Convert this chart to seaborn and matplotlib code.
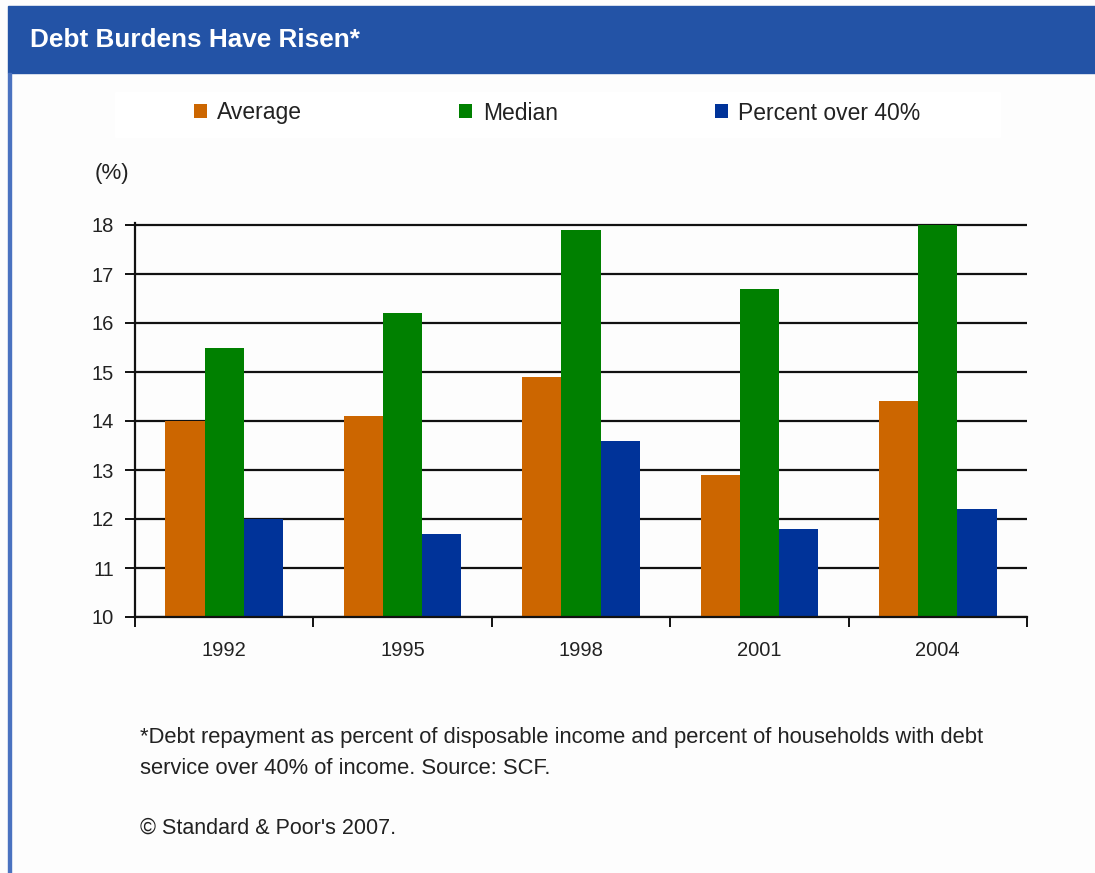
import matplotlib
matplotlib.use("Agg")
import matplotlib.pyplot as plt
import matplotlib.patches as mpatches
import seaborn as sns
import pandas as pd

years = ["1992", "1995", "1998", "2001", "2004"]
average = [14.0, 14.1, 14.9, 12.9, 14.4]
median = [15.5, 16.2, 17.9, 16.7, 18.0]
pct_over_40 = [12.0, 11.7, 13.6, 11.8, 12.2]
series_names = ["Average", "Median", "Percent over 40%"]
y_ticks = [10, 11, 12, 13, 14, 15, 16, 17, 18]

colors = ["#CC6600", "#008000", "#003399"]
header_blue = "#2353A6"

df = pd.DataFrame({
    "year": years * 3,
    "value": average + median + pct_over_40,
    "series": [series_names[0]] * 5 + [series_names[1]] * 5 + [series_names[2]] * 5,
})

sns.set_theme(style="white")
plt.rcParams["font.family"] = ["Liberation Sans", "DejaVu Sans"]

W, H = 1095, 873
fig = plt.figure(figsize=(W / 100, H / 100), dpi=100)
fig.patch.set_facecolor("#FDFDFD")

def fx(px):
    return px / W

def fy(py):
    return 1 - py / H

# header band and left border
fig.patches.append(mpatches.Rectangle((fx(8), fy(73)), fx(W - 8), (73 - 6) / H,
                                      transform=fig.transFigure, color=header_blue, zorder=-2))
fig.patches.append(mpatches.Rectangle((fx(8), 0), fx(3), fy(73),
                                      transform=fig.transFigure, color="#4A72C0", zorder=-2))
fig.text(fx(30), fy(40), "Debt Burdens Have Risen*", color="white", fontsize=18.8,
         fontweight="bold", va="center", ha="left")

# legend strip
fig.patches.append(mpatches.Rectangle((fx(115), fy(137)), fx(885), 45 / H,
                                      transform=fig.transFigure, color="white", zorder=-2))

ax_left, ax_right = 135, 1027
ax_bottom = 617
ymax = 18.05
ax_top = 617 - (ymax - 10) * 49
ax = fig.add_axes([fx(ax_left), fy(ax_bottom), fx(ax_right - ax_left), (ax_bottom - ax_top) / H])
ax.set_facecolor("#FDFDFD")

sns.barplot(data=df, x="year", y="value", hue="series", order=years,
            hue_order=series_names, palette=colors, width=0.66, gap=0,
            saturation=1, edgecolor="none", linewidth=0, ax=ax, zorder=3)

ax.set_ylim(10, ymax)
ax.set_xlim(-0.5, 4.5)
ax.set_yticks(y_ticks)
ax.yaxis.grid(True, color="#111111", linewidth=1.6, zorder=0)
ax.xaxis.grid(False)
ax.set_axisbelow(True)
for s in ["top", "right"]:
    ax.spines[s].set_visible(False)
for s in ["left", "bottom"]:
    ax.spines[s].set_color("#111111")
    ax.spines[s].set_linewidth(1.6)
    ax.spines[s].set_zorder(4)

ax.tick_params(axis="y", which="major", left=True, length=7, width=1.4, color="#111111",
               labelsize=14.5, labelcolor="#222222", pad=8)
ax.set_xticks(range(len(years)))
ax.set_xticklabels(years)
ax.set_xticks([i - 0.5 for i in range(len(years) + 1)], minor=True)
ax.tick_params(axis="x", which="major", length=0, labelsize=14.5, labelcolor="#222222", pad=17)
ax.tick_params(axis="x", which="minor", bottom=True, length=7, width=1.4, color="#111111")
ax.set_xlabel("")
ax.set_ylabel("")

handles, labels = ax.get_legend_handles_labels()
ax.get_legend().remove()
fig.legend(handles, labels, loc="center left", bbox_to_anchor=(fx(194), fy(113)),
           ncol=3, frameon=False, fontsize=16.5,
           handlelength=0.57, handleheight=0.57, handletextpad=0.45,
           columnspacing=6.85, borderpad=0, borderaxespad=0, labelcolor="#222222")

fig.text(fx(95), fy(173), "(%)", fontsize=16, color="#222222", va="center", ha="left")

fig.text(fx(140), fy(738), "*Debt repayment as percent of disposable income and percent of households with debt",
         fontsize=15.8, color="#222222", va="center", ha="left")
fig.text(fx(140), fy(768), "service over 40% of income. Source: SCF.",
         fontsize=15.8, color="#222222", va="center", ha="left")
fig.text(fx(140), fy(828), "\u00a9 Standard & Poor's 2007.",
         fontsize=15.5, color="#222222", va="center", ha="left")

fig.savefig("out.png", dpi=100, facecolor=fig.get_facecolor())
